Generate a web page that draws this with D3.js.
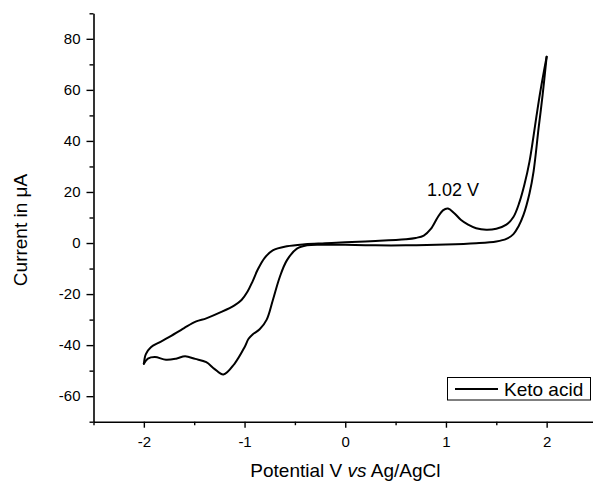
<!DOCTYPE html>
<html>
<head>
<meta charset="utf-8">
<script src="https://cdn.jsdelivr.net/npm/d3@7"></script>
<style>
  html, body { margin: 0; padding: 0; background: #fff; }
  svg { display: block; font-family: "Liberation Sans", Arial, sans-serif; }
</style>
</head>
<body>
<svg id="chart" width="593" height="484"></svg>
<script>
// Forward sweep: -2 V -> +2 V (upper cathodic branch, anodic peak at 1.02 V)
const potentialForward = [-2.0, -1.98, -1.93, -1.85, -1.76, -1.6, -1.48, -1.38, -1.23, -1.1, -1.03, -0.97, -0.92, -0.87, -0.8, -0.72, -0.58, -0.4, -0.2, 0.0, 0.3, 0.6, 0.7, 0.78, 0.85, 0.92, 0.97, 1.02, 1.08, 1.15, 1.22, 1.3, 1.4, 1.5, 1.6, 1.67, 1.73, 1.78, 1.83, 1.87, 1.9, 1.94, 2.0];
const currentForward   = [-47.3, -43.5, -40.8, -39.0, -37.1, -33.3, -30.7, -29.5, -27.0, -24.4, -22.3, -19.0, -15.0, -10.5, -5.8, -2.9, -1.3, -0.5, -0.1, 0.3, 0.8, 1.5, 2.0, 2.9, 5.5, 10.2, 12.8, 13.5, 11.8, 9.0, 7.2, 5.8, 5.2, 5.6, 7.2, 10.2, 16.0, 23.0, 32.0, 42.0, 50.0, 60.0, 73.0];

// Reverse sweep: +2 V -> -2 V (listed here in ascending potential)
const potentialReverse = [-2.0, -1.96, -1.89, -1.78, -1.68, -1.59, -1.49, -1.38, -1.3, -1.21, -1.1, -1.0, -0.96, -0.92, -0.85, -0.78, -0.72, -0.65, -0.58, -0.48, -0.38, -0.2, 0.0, 0.3, 0.6, 1.0, 1.3, 1.5, 1.6, 1.67, 1.72, 1.77, 1.83, 1.87, 1.92, 1.96, 2.0];
const currentReverse   = [-47.3, -45.3, -44.7, -45.7, -45.3, -44.4, -45.4, -46.7, -49.3, -51.5, -47.3, -40.8, -37.5, -35.8, -33.8, -30.0, -22.5, -13.3, -6.8, -2.2, -0.9, -0.7, -0.7, -0.9, -0.9, -0.6, -0.1, 0.6, 1.6, 3.5, 6.5, 11.0, 19.5, 28.0, 45.0, 58.0, 73.0];

const xTickValues = [-2, -1, 0, 1, 2];
const yTickValues = [-60, -40, -20, 0, 20, 40, 60, 80];
const seriesName = "Keto acid";
const peakLabel = "1.02 V";
const peakPotential = 1.02;
const peakCurrent = 13.5;

const svg = d3.select("#chart");
const x = d3.scaleLinear().domain([-2.5, 2.5]).range([93.5, 597]);
const y = d3.scaleLinear().domain([-70, 90]).range([421.7, 13.3]);
const fmt = d => String(d);

// minor ticks
const xMinor = d3.range(-2.5, 2.51, 0.5).filter(v => !xTickValues.some(t => Math.abs(t - v) < 1e-6));
const yMinor = d3.range(-70, 91, 10).filter(v => !yTickValues.includes(v));

const axisStyle = g => {
  g.select(".domain").attr("stroke", "#000").attr("stroke-width", 1.6);
  g.selectAll(".tick line").attr("stroke", "#000").attr("stroke-width", 1.4);
  g.selectAll("text").attr("fill", "#000").attr("font-size", 15).attr("font-family", '"Liberation Sans", Arial, sans-serif');
};

// X axis
const xAxisG = svg.append("g").attr("transform", `translate(0,${y(-70)})`)
  .call(d3.axisBottom(x).tickValues(xTickValues).tickSize(6).tickPadding(9).tickFormat(fmt).tickSizeOuter(0));
axisStyle(xAxisG);
svg.append("g").attr("transform", `translate(0,${y(-70)})`)
  .call(d3.axisBottom(x).tickValues(xMinor).tickSize(3.5).tickFormat("").tickSizeOuter(0))
  .call(g => { g.select(".domain").remove(); g.selectAll("line").attr("stroke", "#000").attr("stroke-width", 1.4); });

// Y axis
const yAxisG = svg.append("g").attr("transform", `translate(${x(-2.5)},0)`)
  .call(d3.axisLeft(y).tickValues(yTickValues).tickSize(7).tickPadding(6).tickFormat(fmt).tickSizeOuter(0));
axisStyle(yAxisG);
svg.append("g").attr("transform", `translate(${x(-2.5)},0)`)
  .call(d3.axisLeft(y).tickValues(yMinor).tickSize(4).tickFormat("").tickSizeOuter(0))
  .call(g => { g.select(".domain").remove(); g.selectAll("line").attr("stroke", "#000").attr("stroke-width", 1.4); });

// Curves
const line = d3.line().x(d => x(d[0])).y(d => y(d[1])).curve(d3.curveCatmullRom.alpha(0.5));
const fwd = potentialForward.map((p, i) => [p, currentForward[i]]);
const rev = potentialReverse.map((p, i) => [p, currentReverse[i]]);
[fwd, rev].forEach(data => {
  svg.append("path").datum(data).attr("d", line)
    .attr("fill", "none").attr("stroke", "#000").attr("stroke-width", 2)
    .attr("stroke-linejoin", "round").attr("stroke-linecap", "round");
});

// Peak annotation
svg.append("text").attr("x", x(peakPotential) + 5).attr("y", y(peakCurrent) - 13)
  .attr("text-anchor", "middle").attr("font-size", 18).attr("fill", "#000").text(peakLabel);

// Axis titles
svg.append("text").attr("transform", `translate(27,230) rotate(-90)`)
  .attr("text-anchor", "middle").attr("font-size", 19).attr("fill", "#000").text("Current in μA");
const xt = svg.append("text").attr("x", 345.4).attr("y", 477)
  .attr("text-anchor", "middle").attr("font-size", 19).attr("fill", "#000");
xt.append("tspan").text("Potential V ");
xt.append("tspan").attr("font-style", "italic").text("vs");
xt.append("tspan").text(" Ag/AgCl");

// Legend
const lg = svg.append("g");
lg.append("rect").attr("x", 447.5).attr("y", 377.5).attr("width", 143).attr("height", 22.5)
  .attr("fill", "#fff").attr("stroke", "#000").attr("stroke-width", 1);
lg.append("line").attr("x1", 455).attr("x2", 498).attr("y1", 389).attr("y2", 389)
  .attr("stroke", "#000").attr("stroke-width", 2);
lg.append("text").attr("x", 504).attr("y", 396).attr("font-size", 19).attr("fill", "#000").text(seriesName);
</script>
</body>
</html>
